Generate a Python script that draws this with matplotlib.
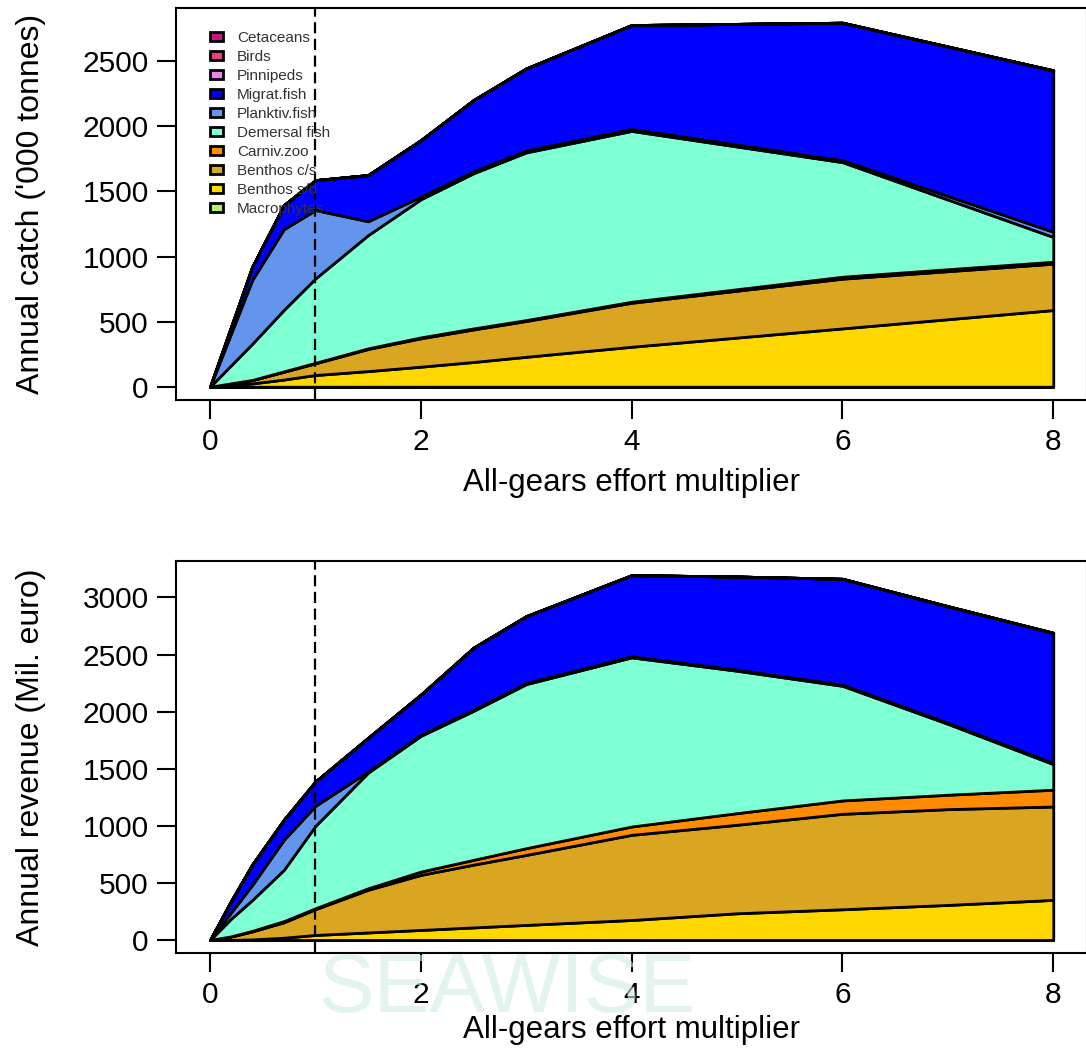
import numpy as np
import matplotlib.pyplot as plt

plt.rcParams['font.family'] = ['Liberation Sans', 'DejaVu Sans']

guilds = ['Macrophytes', 'Benthos s/d', 'Benthos c/s', 'Carniv.zoo', 'Demersal fish',
          'Planktiv.fish', 'Migrat.fish', 'Pinnipeds', 'Birds', 'Cetaceans']
colours = ['#b4ee6e', '#ffd700', '#daa520', '#ff8c00', '#7fffd4',
           '#6495ed', '#0000ff', '#ee82ee', '#e8407a', '#c71585']

# catch ('000 tonnes) by guild
x_catch = [0, 0.4, 0.7, 1, 1.5, 2, 2.5, 3, 4, 6, 8]
catch_macro = [0, 0, 0, 0, 0, 0, 0, 0, 0, 0, 0]
catch_bsd = [0, 25, 55, 90, 120, 154, 190, 230, 307, 448, 589]
catch_bcs = [0, 25, 60, 90, 170, 218, 250, 275, 338, 382, 356]
catch_czoo = [0, 2, 3, 4, 5, 7, 8, 7, 8, 15, 15]
catch_dem = [0, 278, 472, 648, 870, 1061, 1192, 1288, 1312, 880, 190]
catch_plank = [0, 490, 620, 525, 106, 20, 15, 15, 15, 15, 40]
catch_migr = [0, 101, 185, 230, 355, 434, 547, 630, 798, 1056, 1240]
catch_pinn = [0] * 11
catch_birds = [0] * 11
catch_cet = [0] * 11

# revenue (Mil. euro) by guild
x_rev = [0, 0.2, 0.4, 0.7, 1, 1.5, 2, 2.5, 3, 4, 5, 6, 7, 8]
rev_macro = [0] * 14
rev_bsd = [0, 0, 5, 20, 44, 66, 88, 110, 132, 175, 234, 269, 307, 351]
rev_bcs = [0, 30, 70, 135, 226, 374, 482, 550, 613, 746, 775, 836, 839, 818]
rev_czoo = [0, 2, 5, 10, 8, 13, 29, 42, 59, 73, 102, 117, 126, 147]
rev_dem = [0, 155, 270, 449, 722, 1013, 1189, 1305, 1437, 1481, 1247, 1004, 621, 224]
rev_plank = [0, 55, 132, 263, 175, 10, 10, 10, 10, 10, 10, 10, 10, 10]
rev_migr = [0, 100, 178, 175, 213, 295, 351, 543, 585, 710, 815, 927, 1020, 1140]
rev_pinn = [0] * 14
rev_birds = [0] * 14
rev_cet = [0] * 14

W, H = 1086, 1052
fig = plt.figure(figsize=(W / 100, H / 100), dpi=100)


def px_axes(left, top, right, bottom):
    return fig.add_axes([left / W, 1 - bottom / H, (right - left) / W, (bottom - top) / H])


def style(ax, ylim, yticks, ylabel, xlab_y):
    ax.set_xlim(-0.32, 8.32)
    ax.set_ylim(*ylim)
    ax.set_xticks([0, 2, 4, 6, 8])
    ax.set_yticks(yticks)
    ax.tick_params(direction='out', length=14, width=1.5, labelsize=21.5, pad=6, colors='black')
    for s in ax.spines.values():
        s.set_linewidth(1.5)
    ax.axvline(1, color='black', ls=(0, (5, 2.5)), lw=1.6, zorder=5)
    ax.set_ylabel(ylabel, fontsize=23)
    ax.yaxis.set_label_coords(-0.143, 0.5)
    ax.set_xlabel('All-gears effort multiplier', fontsize=22.5, va='center')
    ax.xaxis.set_label_coords(0.5, xlab_y)


ax1 = px_axes(176.3, 8, 1087, 400)
polys = ax1.stackplot(x_catch, catch_macro, catch_bsd, catch_bcs, catch_czoo, catch_dem,
                      catch_plank, catch_migr, catch_pinn, catch_birds, catch_cet,
                      colors=colours, edgecolor='black', linewidth=2)
style(ax1, (-102, 2909), [0, 500, 1000, 1500, 2000, 2500], "Annual catch ('000 tonnes)", -0.212)
leg = ax1.legend(polys[::-1], guilds[::-1], loc='upper left', bbox_to_anchor=(0.0304, 0.957),
                 frameon=False, fontsize=11, labelspacing=0.33, handlelength=0.85,
                 handleheight=0.53, handletextpad=0.9, borderaxespad=0)
for t in leg.get_texts():
    t.set_color('#333333')

ax2 = px_axes(176.3, 561, 1087, 953)
ax2.stackplot(x_rev, rev_macro, rev_bsd, rev_bcs, rev_czoo, rev_dem,
              rev_plank, rev_migr, rev_pinn, rev_birds, rev_cet,
              colors=colours, edgecolor='black', linewidth=2)
style(ax2, (-114, 3319), [0, 500, 1000, 1500, 2000, 2500, 3000], 'Annual revenue (Mil. euro)', -0.197)

# faint watermark
fig.text(507 / W, 1 - 990 / H, 'SEAWISE', fontsize=60, color='#cfece7', alpha=0.6,
         ha='center', va='center', zorder=0)

fig.savefig('out.png', dpi=100)
